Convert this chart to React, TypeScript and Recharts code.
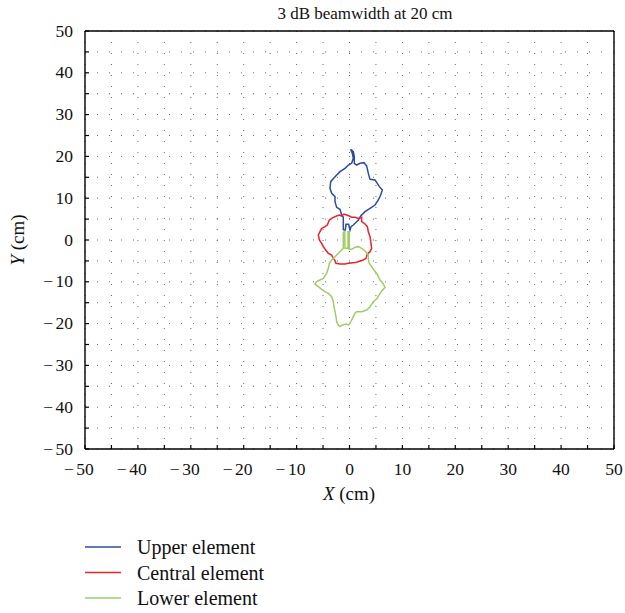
import { LineChart, Line, XAxis, YAxis, CartesianGrid } from 'recharts'

// beam contours, [x cm, y cm], closed loops
const upperElement: [number, number][] = [
  [-1.17, 2.39], [-1.17, 5.42], [-1.48, 5.98], [-1.8, 7.34], [-2.43, 7.81], [-2.74, 9.17],
  [-2.74, 10.37], [-3.37, 11.16], [-3.69, 12.36], [-3.56, 13.96], [-2.74, 15.15], [-1.8, 16.35],
  [-0.85, 17.15], [-0.22, 17.94], [0.41, 18.34], [0.72, 19.54], [0.54, 20.73], [0.22, 21.69],
  [0.72, 21.13], [0.91, 19.94], [0.91, 18.34], [1.35, 17.94], [1.98, 18.34], [2.74, 18.5],
  [3.25, 17.7], [3.56, 15.95], [3.88, 14.51], [4.82, 14.35], [5.26, 13.56], [5.64, 12.76],
  [6.21, 11.96], [5.89, 10.77], [5.45, 9.57], [4.82, 8.37], [3.88, 7.58], [2.93, 6.78],
  [2.11, 5.74], [1.67, 4.78], [0.72, 3.59], [0.28, 3.19], [0.09, 2.39], [-0.16, 3.75],
  [-0.66, 3.75], [-0.79, 2.39], [-1.17, 2.39],
]

const centralElement: [number, number][] = [
  [-3.06, 5.42], [-2.43, 5.74], [-1.92, 5.98], [-1.48, 5.74], [-1.04, 6.22], [-0.54, 5.98],
  [-0.03, 5.74], [0.41, 5.42], [1.04, 5.42], [1.67, 5.18], [2.3, 5.42], [2.3, 4.39],
  [2.93, 3.83], [3.37, 3.19], [3.56, 1.99], [3.88, 0.8], [4.06, -0.8], [4.19, -1.99],
  [3.88, -2.79], [3.37, -3.35], [3.12, -4.39], [2.61, -4.78], [1.98, -5.02], [1.35, -5.34],
  [0.72, -5.42], [-0.22, -5.58], [-0.85, -5.74], [-1.8, -5.74], [-2.55, -5.58], [-2.74, -4.94],
  [-3.06, -4.39], [-3.37, -3.59], [-4.0, -3.19], [-4.51, -2.39], [-4.95, -1.59], [-5.26, -0.8],
  [-5.7, 0], [-5.89, 1.2], [-5.58, 1.99], [-5.26, 2.79], [-4.63, 3.19], [-4.19, 3.59],
  [-3.81, 4.78], [-3.37, 5.18], [-3.06, 5.42],
]

const lowerElement: [number, number][] = [
  [-1.17, 1.99], [-1.17, -1.99], [-1.48, -2.39], [-2.11, -3.19], [-2.74, -3.99], [-3.37, -4.78],
  [-3.81, -5.58], [-4.0, -6.78], [-4.32, -7.97], [-4.95, -9.17], [-5.58, -9.57], [-6.21, -9.97],
  [-6.52, -10.53], [-5.89, -11.16], [-5.26, -11.8], [-4.63, -12.36], [-4.0, -12.76], [-3.37, -13.56],
  [-3.06, -14.75], [-2.93, -15.95], [-2.74, -17.15], [-2.55, -18.34], [-2.43, -19.54], [-2.11, -20.33],
  [-1.8, -20.73], [-1.29, -20.33], [-0.66, -20.1], [-0.22, -20.33], [0.09, -19.94], [0.41, -19.14],
  [0.72, -18.34], [1.04, -17.54], [1.35, -17.15], [2.3, -17.15], [3.25, -16.75], [3.88, -15.95],
  [4.51, -14.75], [5.26, -13.96], [5.77, -12.76], [6.27, -11.96], [6.71, -11.32], [6.4, -10.53],
  [5.77, -9.57], [5.45, -8.77], [5.14, -7.97], [4.63, -7.18], [4.19, -6.38], [3.75, -5.58],
  [3.56, -4.78], [3.56, -3.59], [3.25, -3.03], [2.74, -2.39], [2.3, -1.99], [1.67, -1.59],
  [1.04, -1.75], [0.41, -2.23], [-0.03, -2.23], [-0.03, 1.99], [-0.28, 1.99], [-0.28, -1.99],
  [-0.85, -1.99], [-0.91, 1.99], [-1.17, 1.99],
]

const axisTicks = [-50, -45, -40, -35, -30, -25, -20, -15, -10, -5, 0, 5, 10, 15, 20, 25, 30, 35, 40, 45, 50]
const labelledTicks = [-50, -40, -30, -20, -10, 0, 10, 20, 30, 40, 50]

const series = [
  { name: 'Upper element', color: '#2b4c9f', points: upperElement },
  { name: 'Central element', color: '#e4262b', points: centralElement },
  { name: 'Lower element', color: '#9fcd68', points: lowerElement },
]

const FONT = '"Liberation Serif", "DejaVu Serif", serif'
const TICK_LEN = 4

// minus sign drawn apart from the digits, like the original typesetting
function TickText({ v, ...rest }: any) {
  if (v >= 0) return <text {...rest}>{v}</text>
  return (
    <text {...rest}>
      {'\u2212'}
      <tspan dx={2.5}>{Math.abs(v)}</tspan>
    </text>
  )
}

// inward tick marks + labels
function BottomTick({ x, y, payload }: any) {
  const v = payload.value
  return (
    <g>
      <line x1={x} x2={x} y1={y} y2={y - TICK_LEN} stroke="#000" strokeWidth={1.2} />
      {labelledTicks.includes(v) && (
        <TickText v={v} x={v < 0 ? x - 6.1 : x} y={y + 25.5} textAnchor="middle" fontFamily={FONT} fontSize={17.5} fill="#111" />
      )}
    </g>
  )
}

function TopTick({ x, y }: any) {
  return <line x1={x} x2={x} y1={y} y2={y + TICK_LEN} stroke="#000" strokeWidth={1.2} />
}

function LeftTick({ x, y, payload }: any) {
  const v = payload.value
  return (
    <g>
      <line x1={x} x2={x + TICK_LEN} y1={y} y2={y} stroke="#000" strokeWidth={1.2} />
      {labelledTicks.includes(v) && (
        <TickText v={v} x={x - 12} y={y} dy="0.32em" textAnchor="end" fontFamily={FONT} fontSize={17.5} fill="#111" />
      )}
    </g>
  )
}

function RightTick({ x, y }: any) {
  return <line x1={x} x2={x - TICK_LEN} y1={y} y2={y} stroke="#000" strokeWidth={1.2} />
}

const axisLine = { stroke: '#000', strokeWidth: 1.4 }

export default function App() {
  return (
    <div style={{ position: 'absolute', left: 0, top: 0, width: 625, height: 613, background: '#fff' }}>
      <LineChart width={625} height={613} margin={{ top: 30, right: 10, bottom: 163, left: 84 }}>
        <CartesianGrid horizontal={false} stroke="#666" strokeDasharray="1 10" />
        <CartesianGrid vertical={false} stroke="#666" strokeDasharray="1 11" />
        <XAxis
          type="number"
          dataKey="x"
          domain={[-50, 50]}
          ticks={axisTicks}
          interval={0}
          height={1}
          tickSize={0}
          tickMargin={0}
          tickLine={false}
          axisLine={axisLine}
          tick={<BottomTick />}
          allowDataOverflow
        />
        <XAxis
          xAxisId="top"
          orientation="top"
          type="number"
          domain={[-50, 50]}
          ticks={axisTicks}
          interval={0}
          height={1}
          tickSize={0}
          tickMargin={0}
          tickLine={false}
          axisLine={axisLine}
          tick={<TopTick />}
        />
        <YAxis
          type="number"
          dataKey="y"
          domain={[-50, 50]}
          ticks={axisTicks}
          interval={0}
          width={1}
          tickSize={0}
          tickMargin={0}
          tickLine={false}
          axisLine={axisLine}
          tick={<LeftTick />}
          allowDataOverflow
        />
        <YAxis
          yAxisId="right"
          orientation="right"
          type="number"
          domain={[-50, 50]}
          ticks={axisTicks}
          interval={0}
          width={1}
          tickSize={0}
          tickMargin={0}
          tickLine={false}
          axisLine={axisLine}
          tick={<RightTick />}
        />
        {series.map((s) => (
          <Line
            key={s.name}
            name={s.name}
            data={s.points.map(([x, y]) => ({ x, y }))}
            dataKey="y"
            stroke={s.color}
            strokeWidth={1.5}
            dot={false}
            activeDot={false}
            isAnimationActive={false}
          />
        ))}
      </LineChart>
      <svg
        width={625}
        height={613}
        style={{ position: 'absolute', left: 0, top: 0, pointerEvents: 'none' }}
        fontFamily={FONT}
        fill="#111"
      >
        <text x={365} y={19} textAnchor="middle" fontSize={17}>
          3 dB beamwidth at 20 cm
        </text>
        <text x={349} y={500} textAnchor="middle" fontSize={19}>
          <tspan fontStyle="italic">X</tspan> (cm)
        </text>
        <text transform="translate(24,240) rotate(-90)" textAnchor="middle" fontSize={19}>
          <tspan fontStyle="italic">Y</tspan> (cm)
        </text>
        {series.map((s, i) => {
          const cy = 547 + i * 25.5
          return (
            <g key={s.name}>
              <line x1={85} x2={121} y1={cy} y2={cy} stroke={s.color} strokeWidth={1.6} />
              <text x={137} y={cy + 7} fontSize={20}>
                {s.name}
              </text>
            </g>
          )
        })}
      </svg>
    </div>
  )
}
